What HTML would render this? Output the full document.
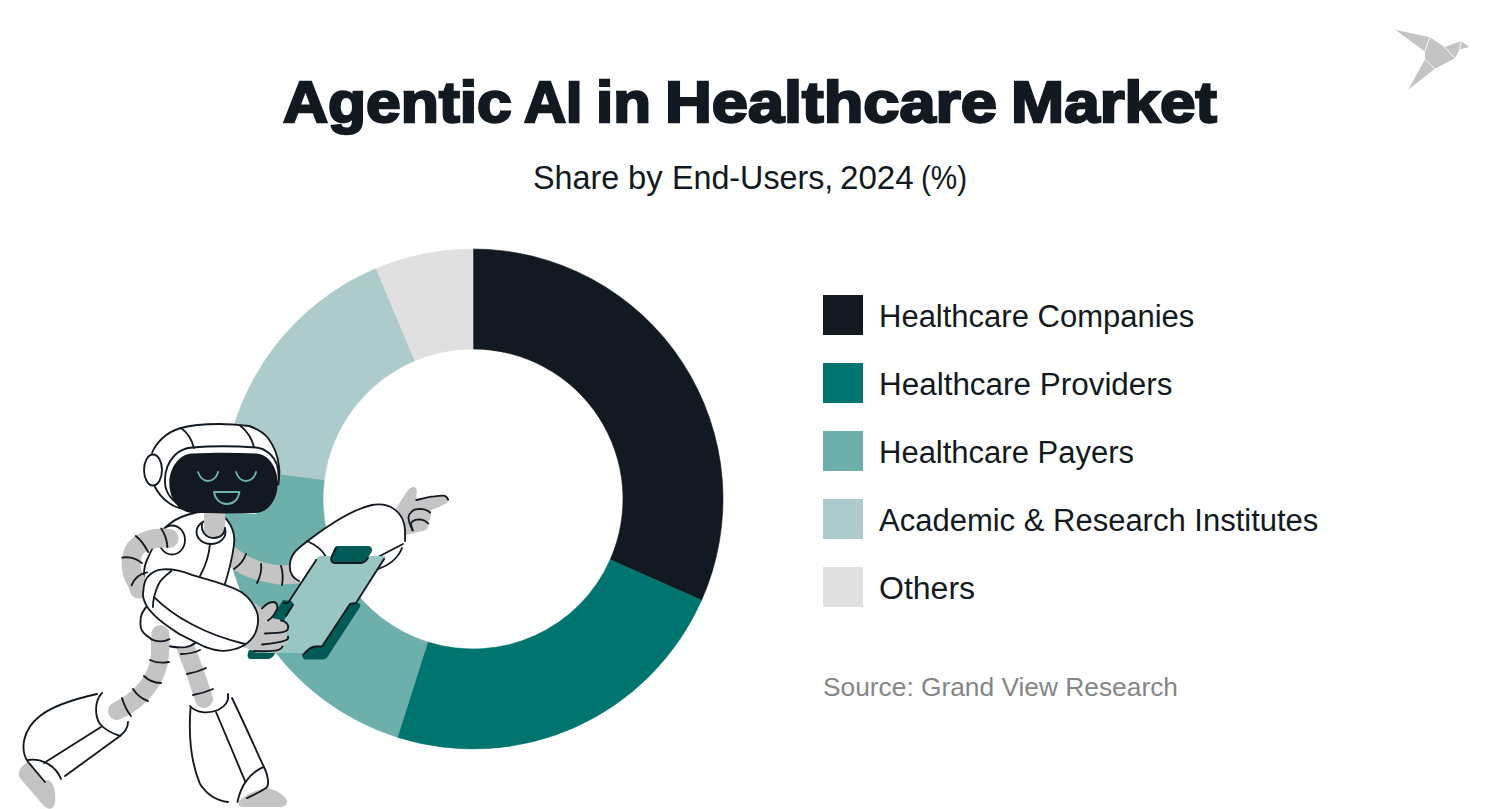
<!DOCTYPE html>
<html><head><meta charset="utf-8">
<style>
html,body{margin:0;padding:0;background:#fff;width:1500px;height:809px;overflow:hidden;position:relative}
body{font-family:"Liberation Sans",sans-serif;color:#121920}
.t{position:absolute;white-space:nowrap;line-height:1}
.tw{top:72.5px;font-size:58px;font-weight:bold;-webkit-text-stroke:2.4px #121920;transform-origin:0 0}
.sw{top:161.2px;font-size:33px;transform-origin:0 0}
.leg{position:absolute;left:823px;width:40px;height:40px}
.lt{position:absolute;left:879px;font-size:31px;white-space:nowrap;line-height:1}
#src{left:823px;top:673.6px;font-size:26.5px;color:#868686;transform-origin:0 0;transform:scaleX(0.993)}
svg{position:absolute;left:0;top:0}
</style></head><body>
<svg width="1500" height="809" viewBox="0 0 1500 809">
<path fill="#121920" stroke="#121920" stroke-width="0.6" d="M473.00 249.00A250 250 0 0 1 701.56 600.29L610.14 559.77A150 150 0 0 0 473.00 349.00Z"/>
<path fill="#00756f" stroke="#00756f" stroke-width="0.6" d="M701.56 600.29A250 250 0 0 1 397.41 737.30L427.64 641.98A150 150 0 0 0 610.14 559.77Z"/>
<path fill="#6cafab" stroke="#6cafab" stroke-width="0.6" d="M397.41 737.30A250 250 0 0 1 225.05 467.02L324.23 479.81A150 150 0 0 0 427.64 641.98Z"/>
<path fill="#accbca" stroke="#accbca" stroke-width="0.6" d="M225.05 467.02A250 250 0 0 1 376.12 268.53L414.87 360.72A150 150 0 0 0 324.23 479.81Z"/>
<path fill="#e0e0e0" stroke="#e0e0e0" stroke-width="0.6" d="M376.12 268.53A250 250 0 0 1 473.00 249.00L473.00 349.00A150 150 0 0 0 414.87 360.72Z"/>
<g fill="none" stroke="#121920" stroke-width="1.85" stroke-linecap="round" stroke-linejoin="round">
<!-- left shin boot -->
<path fill="#c4c4c4" stroke="none" d="M19 772 C 22 764, 28 761, 33 764 L 52 783 C 56 790, 56 800, 54 806 C 52 810, 47 809, 44 806 L 19 777 Z"/>
<path fill="#fff" d="M97 694 C 70 700, 50 708, 40 716 C 22 730, 20 750, 30 762 L 44 781 L 65 776 L 120 736 C 126 732, 129 727, 128 722 C 118 714, 100 705, 97 694 Z" stroke="none"/>
<path d="M97 694 C 70 700, 50 708, 40 716 C 22 730, 20 750, 28 762 L 45 782"/>
<path d="M102 693 C 95 700, 94 715, 100 724 C 106 731, 114 734, 120 736 C 125 732, 128 727, 128 722"/>
<path d="M120 736 L 65 776"/>
<path d="M101 727 L 44 763"/>
<path d="M28 760 C 42 758, 56 766, 61 779"/>
<!-- left thigh -->
<path stroke="#c4c4c4" stroke-width="18" d="M160 630 L160 655 C 158 680, 140 700, 117 711"/>
<path d="M152 640 C 158 643, 164 643, 169 640"/>
<path d="M150 660 C 156 663, 163 663, 169 662"/>
<path d="M144 676 C 149 681, 155 683, 161 683"/>
<path d="M133 689 C 137 695, 142 699, 148 701"/>
<path d="M122 698 C 124 705, 127 711, 131 716"/>
<!-- right shin boot -->
<path fill="#c4c4c4" stroke="none" d="M240 800 C 250 792, 262 788, 268 788 C 276 790, 284 795, 287 800 C 288 805, 284 807, 280 807 L 242 807 C 238 806, 237 803, 240 800 Z"/>
<path fill="#fff" stroke="none" d="M190.5 708 C 188.5 735, 190 760, 200 784 C 208 796, 218 801, 228 802 L 240 800 C 246 792, 255 785, 267 784 C 262 760, 248 725, 232 698 Z"/>
<path d="M190.5 708 C 188.5 735, 190 760, 200 784 C 208 796, 218 801, 228 802"/>
<path d="M190 706 C 196 713, 208 714, 218 710 C 226 706, 229 700, 228 694"/>
<path d="M232 698 C 245 725, 256 750, 263.8 766.8 C 266 771, 268 777, 268.1 782.8 C 268 785, 267.5 787, 266 788 C 260 792, 254 795, 247 798.1"/>
<path d="M216 712 L 245.5 782.1"/>
<path d="M237.5 801.8 C 239 795, 241 788, 245.5 782.1 C 250 775, 256 770, 263.8 766.8"/>
<!-- right thigh -->
<path stroke="#c4c4c4" stroke-width="18" d="M185 646 L 195 672 L 204 699"/>
<path d="M181 654 C 187 654, 194 653, 200 650"/>
<path d="M187 674 C 193 673, 200 671, 206 668"/>
<path d="M193 695 C 199 694, 206 692, 213 689"/>
<!-- pelvis -->
<path fill="#fff" d="M148.5 604.5 C 143 610, 140 616, 140.5 621.8 C 140 627, 142 631, 143.6 632.9 C 146 635.5, 148 637, 149.8 637.8 C 156 642, 163 645, 170.8 646.5 C 176 647.5, 181 647.5, 185.6 647.1 C 189 646.5, 193 645, 195.5 642.8 L 205 620 Z"/>
<path stroke="#c4c4c4" stroke-width="18" d="M160.3 634 L 160.3 650"/>
<path d="M151 639.1 C 157 642, 164 642, 169.5 639.1"/>
<!-- right upper arm (front, going right) -->
<path stroke="#c4c4c4" stroke-width="19" d="M228 553 C 242 567, 260 573, 280 575 L 300 574"/>
<path d="M234 569 C 240 565, 244 560, 246 554"/>
<path d="M257 583 C 260 577, 262 570, 261 564"/>
<path d="M282 585 C 283 579, 283 572, 281 566"/>
<!-- torso -->
<path fill="#fff" d="M166 527 C 176 517, 195 510, 215 512 C 228 516, 236 530, 234 545 C 232 560, 228 575, 223 590 L 146 592 C 142 580, 144 566, 147 560 C 152 548, 158 537, 166 527 Z"/>
<path d="M210 544 C 209 556, 205 567, 200 576"/>
<!-- shoulder ring + left upper arm -->
<ellipse fill="#fff" cx="172" cy="540" rx="13" ry="14.5"/>
<path stroke="#c4c4c4" stroke-width="19" d="M169 538.5 C 155 537, 142 540, 135 549 C 129.5 557, 130 572, 136 581 C 137.5 584, 138.5 587, 139 589"/>
<path d="M161.2 528.5 C 165 534, 167 541, 167.4 547"/>
<path d="M135.8 536 C 141 540, 145 546, 148.2 552"/>
<path d="M122.2 557.6 C 129 556.5, 137 558.5, 142 563.2"/>
<path d="M131.5 585.4 C 134 579, 139 574, 147 572.4"/>
<!-- neck -->
<ellipse fill="#fff" cx="211" cy="532" rx="14.5" ry="12"/>
<path fill="#c4c4c4" stroke="none" d="M204 500 L 226 500 L 225 530 C 224 536, 219 539, 214 539 C 209 539, 205 536, 204 530 Z"/>
<path d="M202 524 C 201 532, 206 538, 214 538 C 221 538, 225 533, 225 528"/>
<!-- head -->
<path fill="#fff" stroke="none" d="M152 453 C 158 440, 170 430, 192 425 C 210 423, 235 423, 250 426 C 265 430, 276 445, 279 469 C 280 478, 279 484, 277 488 L 256 514 L 182 509 C 168 500, 158 492, 154 485 Z"/>
<path d="M152 453 C 156 443, 166 432, 181 428 C 195 424, 210 424, 219 424 C 230 424, 240 425, 249 426 C 258 429, 264 433, 268 438 C 274 446, 278 456, 279 467 C 280 474, 279 480, 277.5 485"/>
<path d="M154.5 486 C 158 493, 163 499, 169 503 C 173 506, 178 508, 184 509"/>
<path d="M183 507.5 C 172 501, 165.5 493, 165 483 C 164.5 472, 168 462, 175 455 C 180 450, 186 448, 192 447.5 C 210 446, 235 446, 256 447.5 C 266 448.5, 274 456, 277 465 C 278.5 470, 279 476, 278.5 484"/>
<path d="M181 428 C 188 433, 192 440, 194 448"/>
<path d="M240 425.5 C 247 431, 252 439, 254 447"/>
<path fill="#121920" stroke="none" d="M192 453.5 C 215 452.5, 235 452.5, 256 453.5 C 268 454, 277.7 467, 277.7 483 C 277.7 500, 268 512.5, 256 513 C 235 513.5, 215 513.5, 192 513 C 180 512.5, 169.3 500, 169.3 483 C 169.3 467, 180 454, 192 453.5 Z"/>
<ellipse fill="#fff" cx="153" cy="470" rx="9" ry="15.5"/>
<g stroke="#6cb3ae" stroke-width="1.8">
<path d="M198 472 C 200 478, 204 481, 208 481 C 213 481, 217 477, 218 472"/>
<path d="M236 472 C 238 478, 242 481, 246 481 C 251 481, 255 477, 256 472"/>
<path d="M214 492 L 239.5 492 C 238 500, 233 504, 226.5 504 C 220 504, 215 499, 214 492 Z"/>
</g>
<!-- pointing hand -->
<path fill="#c4c4c4" stroke="none" d="M394.5 511.2 C 399 504, 403 497, 407 491.5 C 409 488.5, 411 487, 413 487 C 416 487, 417 489, 416.7 491.1 L 416.3 499.5 C 425 497.5, 436 495.5, 442 495.6 C 446 496, 448.5 498, 448.2 500 C 448 502, 447 503, 444 504.5 C 440 506.5, 436 508.5, 431.5 509.7 C 431 512, 431 516, 430.4 517.8 C 430 520, 428.5 521.5, 427.5 522 C 428.5 523.5, 428.5 525.5, 428 527 C 427 530, 424 531, 421.2 531.2 L 406.3 534.9 Z"/>
<path d="M416.3 500 C 422 498.5, 430 496.5, 434.5 496.3 C 438 495.8, 441 495.5, 443.4 495.6 C 446 496, 447.5 497.5, 448.2 499.7"/>
<path d="M430 512.6 C 427 509.5, 423 509, 419.7 508.9 C 416 509, 413 510, 411.5 511.9 C 409 514, 408.3 516, 408.5 518 C 409 523, 411 527, 413 530.4"/>
<path d="M428.2 523.4 C 425.5 520.5, 422 519.5, 419.7 519.3 C 416 519.3, 413.5 520.5, 412.3 521.5 C 411 523, 410.8 524.5, 411.1 525 C 411.5 527, 412 529, 412.3 530.4"/>
<!-- elbow / forearm right -->
<path fill="#fff" d="M299 581 C 287 575, 286 558, 300 547 C 325 527, 350 510, 372 505 C 390 502, 404 512, 405 530 L 405 541 C 400 555, 385 565, 378 569 L 320 595 Z" stroke="none"/>
<path d="M299 581 C 287 575, 286 558, 300 547 C 325 527, 350 510, 372 505 C 390 502, 404 512, 405 530 L 405 541"/>
<path d="M307 541 C 316 545, 323 551, 326 557"/>
<path d="M403 544 L 378 557"/>
<path d="M402 548 C 398 558, 390 565, 378 569"/>
<!-- clipboard -->
<path fill="#005a56" stroke="none" d="M249 650 C 247 655, 247 658, 250 659 L 269 659 C 272 658, 274 656, 277 650 Z"/>
<path fill="#99c6c3" stroke="none" d="M321 556 L 384 556 C 386 556, 386 558, 385 560 L 321 653 L 255 653 L 316.3 559.7 C 317.5 557, 319 556, 321 556 Z"/>
<path fill="#005a56" stroke="none" d="M351 603 L 358 603 C 360 603, 361 605, 360 607 L 328 656 C 327 658, 325 659.5, 322 659.5 L 306 659.5 C 303 659.5, 302 657, 303 655 L 308 649 C 310 647, 312 646, 315 646 L 322 646 Z"/>
<path fill="#005a56" stroke="none" d="M283 600 L 291 601 C 293 602, 294 604, 293 606 L 279 628 L 265 628 Z"/>
<path d="M316.3 559.7 L 288 603 L 284 603"/>
<path d="M293 605 L 286 616"/>
<path d="M384 559 L 356 603 L 350 604 L 322 646.5 L 315 646.5 C 311 647, 308 649, 303 655"/>
<path fill="#005a56" stroke="none" d="M337 546 L 369 546 C 372 547, 373 550, 371 553 L 366 560 C 365 562, 363 563, 360 563 L 334 563 C 331 563, 330 561, 331 558 L 334 549 C 335 547, 336 546, 337 546 Z"/>
<path d="M336 548 L 332 556 C 330 560, 332 563, 335 563 L 361 563 C 364 563, 366 561, 368 558"/>
<!-- left hand -->
<path fill="#c4c4c4" stroke="none" d="M240 593 C 252 600, 258 606, 262 608 C 266 604, 270 602, 273 602 C 277 602, 278 606, 277 609 L 272 618 L 281 620 C 286 621, 289 625, 288 628 C 288 631, 286 633, 285 634 C 288 635, 289 639, 288 642 C 287 644, 285 645, 283 646 C 283 649, 280 652, 277 652 L 254 651 L 240 646 Z"/>
<path d="M262 608.5 C 266 604, 270 602, 273 602 C 277 602, 278 606, 277 609 C 275 614, 272 618, 268 620.5"/>
<path d="M281 620.5 C 286 621, 289 625, 288 628 C 288 631, 286 633, 265 633.5"/>
<path d="M288 636.5 C 289 639, 288 642, 262 644.5"/>
<path d="M282.5 646.5 C 281 650, 279 652, 254 651"/>
<!-- left forearm capsule -->
<path fill="#fff" d="M163.4 569.3 C 175 569, 185 572, 191.8 574.8 L 216.5 582.2 C 225 585, 235 588, 241.2 592.1 C 247 596, 254 604, 257.3 613.1 C 259 620, 258 630, 253 637 C 248 644, 238 650, 223.9 650.8 C 215 651, 209 648, 204.1 646.5 L 179.4 634.1 C 170 628, 160 621, 154.7 615.6 C 150 611, 146 606, 144.8 602 C 143 598, 142.5 594, 143.3 590.9 C 144 583, 146 578, 148.5 576.1 C 152 572, 157 569.5, 163.4 569.3 Z"/>
<path d="M171.4 571.1 C 165 576, 160 580, 158.4 584.7 C 155 592, 153 600, 152.9 607"/>
<path d="M154.1 597.1 C 165 608, 178 617, 191.8 624.3 C 210 634, 228 640, 244.9 644"/>
</g>
<g fill="#c4c4c4"><path d="M1395.2 29.8 L1429.8 37.2 L1444.6 47.1 L1461.3 40.9 L1469.4 47.1 L1459.5 49.5 L1455.1 58.2 L1434.8 68.7 L1408.2 89.7 L1424.9 59.4 L1424.9 51.4 Z"/></g>
<g stroke="#fff" stroke-width="0.9" fill="none"><path d="M1429.8 37.2 L1424.9 51.4"/><path d="M1443.5 46.3 L1455.1 58.2"/><path d="M1461.3 40.9 L1459.5 49.5"/><path d="M1424.9 59.4 L1434.8 68.7"/></g>
</svg>
<div class="t tw" style="left:283.4px;transform:scaleX(1.075)">Agentic</div><div class="t tw" style="left:524px;transform:scaleX(1.005)">AI</div><div class="t tw" style="left:596.1px;transform:scaleX(1.065)">in</div><div class="t tw" style="left:664.6px;transform:scaleX(1.119)">Healthcare</div><div class="t tw" style="left:1010.5px;transform:scaleX(1.1)">Market</div>
<div class="t sw" style="left:532.8px;transform:scaleX(0.979)">Share</div><div class="t sw" style="left:628.05px;transform:scaleX(0.994)">by</div><div class="t sw" style="left:671.7px;transform:scaleX(0.977)">End-Users,</div><div class="t sw" style="left:839.5px;transform:scaleX(1.004)">2024</div><div class="t sw" style="left:920.85px;transform:scaleX(0.898)">(%)</div>
<div class="leg" style="top:295px;background:#121920"></div>
<div class="leg" style="top:363px;background:#00756f"></div>
<div class="leg" style="top:431px;background:#6cafab"></div>
<div class="leg" style="top:499px;background:#accbca"></div>
<div class="leg" style="top:567px;background:#e0e0e0"></div>
<div class="lt" style="top:300.8px">Healthcare Companies</div>
<div class="lt" style="top:368.8px;transform-origin:0 0;transform:scaleX(1.014)">Healthcare Providers</div>
<div class="lt" style="top:436.8px">Healthcare Payers</div>
<div class="lt" style="top:504.8px">Academic &amp; Research Institutes</div>
<div class="lt" style="top:572.8px;transform-origin:0 0;transform:scaleX(1.033)">Others</div>
<div class="t" id="src">Source: Grand View Research</div>
</body></html>
